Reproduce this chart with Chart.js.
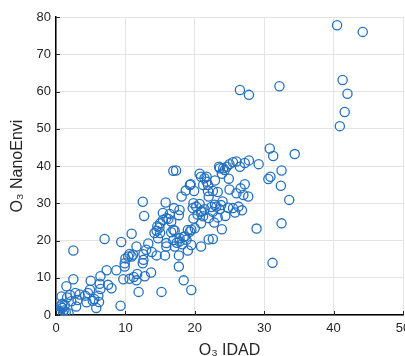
<!DOCTYPE html>
<html>
<head>
<meta charset="utf-8">
<script src="https://cdn.jsdelivr.net/npm/chart.js@4/dist/chart.umd.min.js"></script>
<style>
  html, body { margin: 0; padding: 0; background: #fff; overflow: hidden; }
  #wrap { width: 420px; height: 370px; }
</style>
</head>
<body>
<div id="wrap"><canvas id="scatterChart" width="420" height="370"></canvas></div>
<script>
// O3 IDAD (x) vs O3 NanoEnvi (y)
var idad = [
    40.5, 44.2, 41.3, 42.0, 41.6, 40.9, 26.5, 27.8, 32.2,
    30.8, 31.3, 34.4, 32.5, 30.6, 30.9, 32.4, 33.6, 32.5, 31.2, 28.9, 29.2,
    27.8, 27.2, 26.5, 26.0, 25.5, 25.0, 24.6, 24.1, 23.6, 23.5, 24.3, 24.9, 23.9, 22.9,
    27.2, 26.6, 26.0, 25.0, 27.0, 27.7, 26.3, 25.5, 26.8, 24.4, 23.9, 23.3, 22.8,
    23.3, 22.6, 21.9, 22.0, 23.1, 23.6, 22.9, 22.6, 22.0, 21.4, 20.9, 20.7, 20.2,
    19.8, 19.7, 19.8, 20.0, 19.5, 19.3, 20.9, 20.9, 22.0, 22.6, 19.5, 19.0, 18.8,
    18.2, 17.8, 17.4, 16.9, 17.1, 15.9, 15.9, 15.7, 14.5, 13.8, 13.3, 12.6, 12.6,
    12.5, 12.8, 13.7, 11.6, 11.7, 11.6, 10.9, 9.4, 10.9, 10.4, 10.6, 11.1, 9.9,
    10.0, 9.9, 10.6, 9.7, 8.7, 9.3, 7.0, 7.3, 7.5, 6.4, 6.3, 6.4, 6.1, 6.2, 5.8,
    4.9, 5.0, 4.6, 4.4, 4.2, 3.4, 2.5, 2.5, 2.8, 2.9, 2.2, 2.0, 1.5, 1.6, 1.8,
    0.8, 0.7, 0.5, 1.0, 0.9, 1.25, 0.4,
    12.5, 12.7, 16.9, 17.3, 15.8, 16.4, 17.0, 17.8, 17.7, 16.6, 16.9, 16.6, 17.1,
    15.9, 15.4, 15.0, 14.6, 14.5, 14.7, 15.0, 15.4, 18.1, 18.7, 19.3, 19.4, 19.9,
    20.7, 20.9, 21.4, 21.7, 21.2, 21.7, 21.9, 17.7, 17.7, 18.4, 19.5, 15.2, 11.9,
    18.6, 17.8, 0.6, 1.1, 1.4, 0.3, 0.9, 5.5, 3.1, 14.2, 14.9, 16.2, 18.4, 19.0,
    21.0, 24.8, 25.8, 22.4, 23.8, 24.0, 20.4, 21.2, 13.0, 11.2, 8.0, 5.3
];
var nanoEnvi = [
    77.8, 76.0, 63.1, 59.4, 54.5, 50.7, 60.4, 59.1, 61.4,
    44.7, 42.7, 43.2, 38.8, 36.5, 37.1, 34.7, 30.9, 24.6, 14.0, 23.2, 40.5,
    41.5, 40.8, 39.8, 41.2, 41.0, 40.5, 39.8, 39.4, 39.4, 39.8, 38.9, 36.6, 37.9, 36.1,
    35.1, 34.0, 32.7, 33.7, 32.2, 31.8, 29.1, 28.7, 28.1, 26.6, 23.0, 26.2, 24.8,
    33.0, 33.3, 33.3, 31.8, 29.1, 28.4, 29.6, 27.7, 26.0, 28.4, 27.7, 29.8, 29.1,
    30.0, 28.7, 25.9, 23.3, 22.9, 22.4, 24.6, 18.4, 20.3, 20.4, 18.8, 17.3, 20.2,
    19.0, 20.6, 19.4, 20.1, 18.4, 18.4, 19.3, 16.0, 16.0, 16.9, 19.2, 16.3, 14.8,
    13.9, 10.4, 11.4, 9.3, 11.0, 18.4, 21.8, 19.6, 15.7, 15.7, 16.4, 16.2, 13.9,
    15.2, 13.0, 9.7, 9.6, 12.0, 2.5, 20.4, 12.0, 8.1, 10.4, 8.4, 7.0, 5.2, 3.5, 1.9,
    6.8, 9.2, 5.9, 3.4, 5.2, 5.5, 17.3, 9.6, 5.9, 2.3, 3.7, 5.4, 7.7, 4.7, 0.5,
    5.0, 2.3, 1.0, 0.5, 1.9, 2.6, 0.1,
    30.4, 26.6, 38.7, 38.8, 30.2, 27.1, 28.7, 28.2, 26.8, 25.1, 22.9, 22.2, 22.6,
    26.0, 25.5, 24.6, 23.8, 22.6, 20.6, 22.0, 27.4, 31.8, 33.4, 34.9, 35.1, 33.3,
    37.9, 37.1, 36.7, 37.1, 34.9, 35.8, 34.9, 16.0, 13.0, 9.3, 6.7, 6.2, 6.2,
    21.1, 19.7, 0.3, 1.2, 0.8, 0.6, 3.0, 4.3, 4.0, 22.0, 23.5, 25.8, 21.0, 22.8,
    28.0, 28.8, 27.5, 29.0, 29.5, 30.5, 27.0, 26.5, 17.5, 10.2, 7.2, 3.8
];

var xTicks = [0, 10, 20, 30, 40, 50];
var yTicks = [0, 10, 20, 30, 40, 50, 60, 70, 80];

var points = idad.map(function (x, i) { return { x: x, y: nanoEnvi[i] }; });

// MATLAB style inward tick marks on the left and bottom axes
var innerTicks = {
    id: 'innerTicks',
    afterDraw: function (chart) {
        var ctx = chart.ctx;
        var area = chart.chartArea;
        var xs = chart.scales.x, ys = chart.scales.y;
        ctx.save();
        ctx.strokeStyle = '#262626';
        ctx.lineWidth = 1;
        ctx.beginPath();
        xTicks.forEach(function (t) {
            var px = Math.round(xs.getPixelForValue(t)) + 0.5;
            ctx.moveTo(px, area.bottom);
            ctx.lineTo(px, area.bottom - 4);
        });
        yTicks.forEach(function (t) {
            var py = Math.round(ys.getPixelForValue(t)) + 0.5;
            ctx.moveTo(area.left, py);
            ctx.lineTo(area.left + 4, py);
        });
        ctx.stroke();
        ctx.restore();
    }
};

var tickFont = { family: "Arial, 'Liberation Sans', sans-serif", size: 13 };
var titleFont = { family: "Arial, 'Liberation Sans', sans-serif", size: 16 };

new Chart(document.getElementById('scatterChart').getContext('2d'), {
    type: 'scatter',
    data: {
        datasets: [{
            label: 'O3',
            data: points,
            pointStyle: 'circle',
            pointRadius: 4.6,
            pointBorderWidth: 1.3,
            borderColor: '#2270c0',
            backgroundColor: 'rgba(0,0,0,0)'
        }]
    },
    options: {
        responsive: false,
        animation: false,
        layout: { padding: { left: 0, top: 17, right: 17, bottom: 0 } },
        plugins: { legend: { display: false }, tooltip: { enabled: false } },
        scales: {
            x: {
                type: 'linear',
                min: 0, max: 50,
                afterBuildTicks: function (s) { s.ticks = xTicks.map(function (v) { return { value: v }; }); },
                afterFit: function (s) { s.height = 55; },
                ticks: { color: '#262626', font: tickFont, padding: 6, maxRotation: 0 },
                grid: { color: '#e4e4e4', lineWidth: 1, drawTicks: false },
                border: { color: '#000', width: 1.5 },
                title: { display: true, text: 'O₃ IDAD', color: '#262626', font: titleFont, padding: { top: 0, bottom: 10 } }
            },
            y: {
                type: 'linear',
                min: 0, max: 80,
                afterBuildTicks: function (s) { s.ticks = yTicks.map(function (v) { return { value: v }; }); },
                afterFit: function (s) { s.width = 56; },
                ticks: { color: '#262626', font: tickFont, padding: 5 },
                grid: { color: '#e4e4e4', lineWidth: 1, drawTicks: false },
                border: { color: '#000', width: 1.5 },
                title: { display: true, text: 'O₃ NanoEnvi', color: '#262626', font: titleFont, padding: { top: 8, bottom: 0 } }
            }
        }
    },
    plugins: [innerTicks]
});
</script>
</body>
</html>
